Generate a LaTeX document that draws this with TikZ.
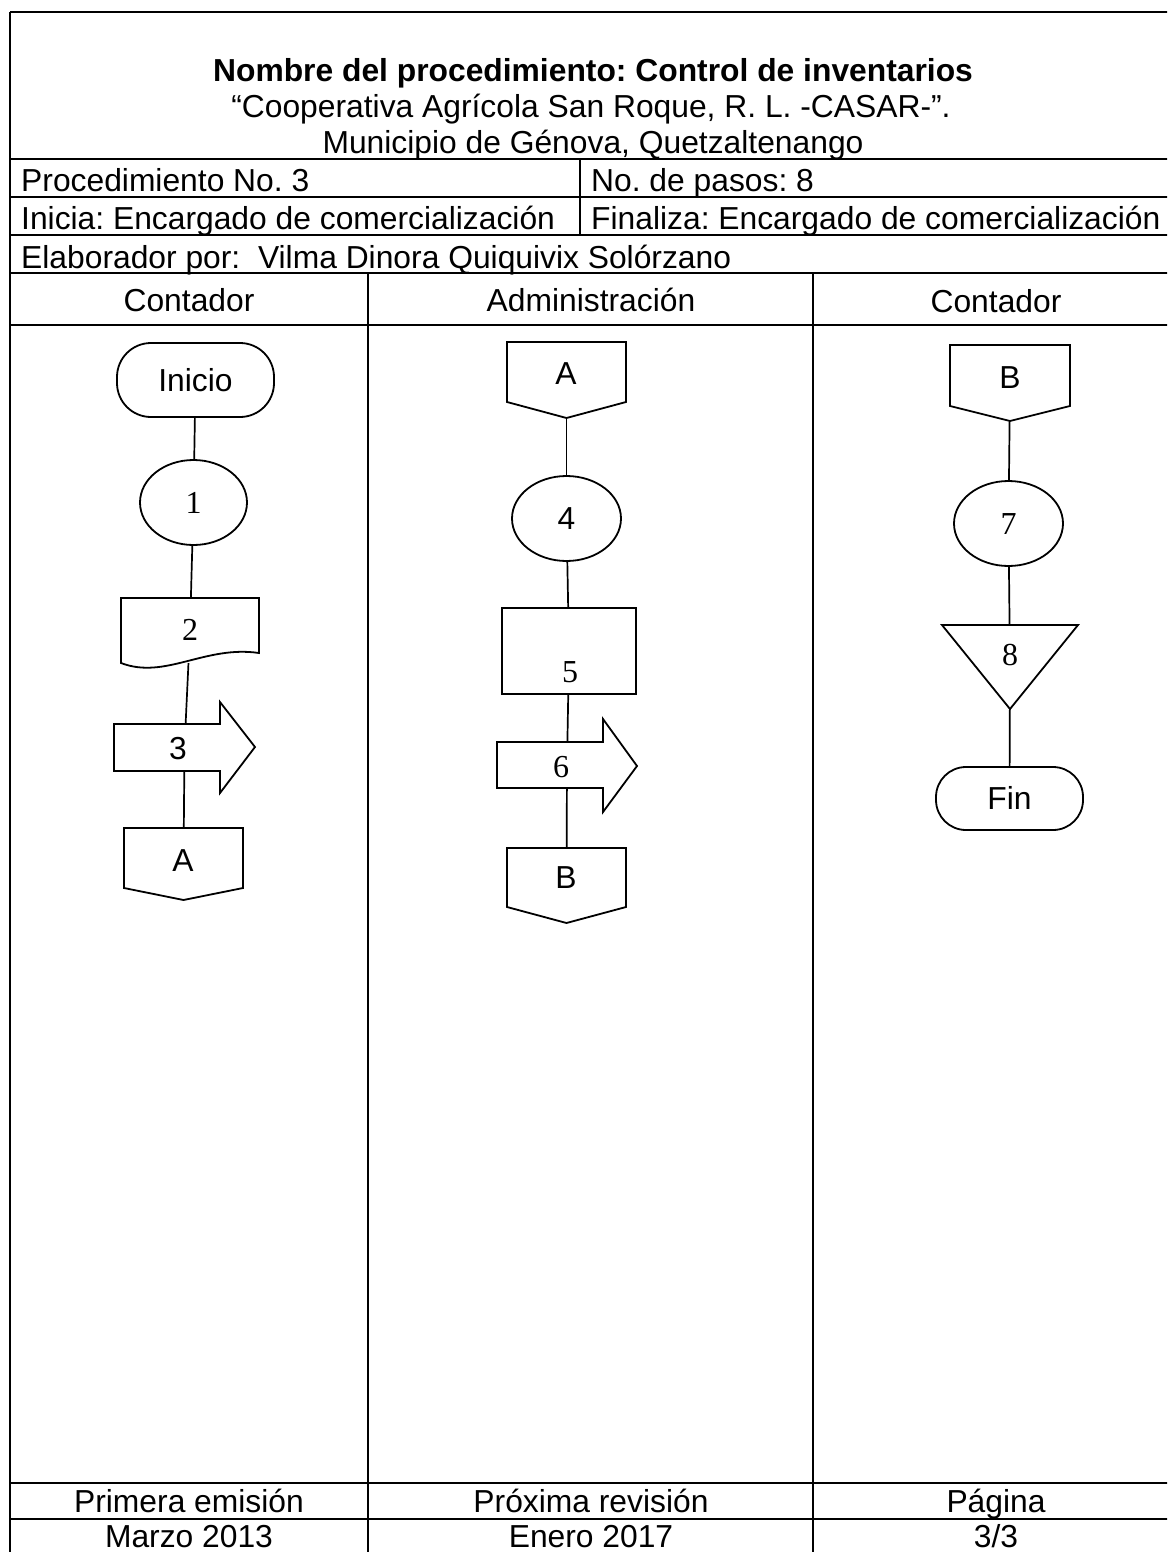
\documentclass[tikz,border=0pt]{standalone}
\usepackage{fontspec}
\setmainfont{Liberation Sans}
\newfontfamily\tnr{Liberation Serif}
\usetikzlibrary{shapes.geometric}
\AtBeginDocument{\frenchspacing}
\begin{document}
\begin{tikzpicture}[x=1pt,y=-1pt,
  tbl/.style={line width=2.4pt},
  shp/.style={draw, line width=1.8pt},
  conn/.style={line width=1.7pt},
  txt/.style={inner sep=0pt, font=\frenchspacing\fontsize{31.8}{38}\selectfont, text height=22.8pt, text depth=0pt},
  ltxt/.style={txt, anchor=west},
  btxt/.style={txt, font=\frenchspacing\bfseries\fontsize{31.8}{38}\selectfont},
  ser/.style={inner sep=0pt, font=\tnr\fontsize{32}{36}\selectfont, text height=21.6pt, text depth=0pt},
  hole/.style={inner sep=0pt, outer sep=0pt, draw=none},
]
\useasboundingbox (0,0) rectangle (1167,1552);
% ---------- table ----------
\begin{scope}
\clip (0,0) rectangle (1167,1552);
\draw[tbl] (10,12) -- (1180,12);
\draw[tbl] (10,12) -- (10,1560);
\foreach \yy in {159,197,235,273,325,1483,1519} {\draw[tbl] (10,\yy) -- (1180,\yy);}
\draw[tbl] (580,159) -- (580,235);
\draw[tbl] (368,273) -- (368,1560);
\draw[tbl] (813,273) -- (813,1560);
\end{scope}
% ---------- header texts ----------
\node[btxt] (title) at (593,70) {Nombre del procedimiento: Control de inventarios};
\node[txt] (coop) at (591,106) {“Cooperativa Agrícola San Roque, R. L. -CASAR-”.};
\node[txt] (muni) at (593,142) {Municipio de Génova, Quetzaltenango};
\node[ltxt] (proc) at (21,180) {Procedimiento No. 3};
\node[ltxt] (pasos) at (591,180) {No. de pasos: 8};
\node[ltxt] (inicia) at (21,218) {Inicia: Encargado de comercialización};
\node[ltxt] (finaliza) at (591,218) {Finaliza: Encargado de comercialización};
\node[ltxt] (elab) at (21,257) {Elaborador por:\ \ Vilma Dinora Quiquivix Solórzano};
\node[txt] (h1) at (189,300) {Contador};
\node[txt] (h2) at (591,300) {Administración};
\node[txt] (h3) at (996,301) {Contador};
% ---------- footer texts ----------
\node[txt] (f1) at (189,1501) {Primera emisión};
\node[txt] (f2) at (591,1501) {Próxima revisión};
\node[txt] (f3) at (996,1501) {Página};
\node[txt] (g1) at (189,1536) {Marzo 2013};
\node[txt] (g2) at (591,1536) {Enero 2017};
\node[txt] (g3) at (996,1536) {3/3};
% ---------- column 1 ----------
\node[shp, txt, rounded corners=34pt, minimum width=157pt, minimum height=74pt] (ini) at (195.5,380) {Inicio};
\node[shp, ellipse, ser, minimum width=107pt, minimum height=85pt] (s1) at (193.5,502.5) {1};
\node[hole, minimum width=138pt, minimum height=65pt] (d2) at (190,630.5) {};
\draw[shp] (121,663) -- (121,598) -- (259,598) -- (259,653) .. controls (205,645) and (165,680) .. (121,663) -- cycle;
\node[ser] (d2t) at (190,630) {2};
\node[hole, minimum width=141pt, minimum height=47pt] (a3) at (184.5,747.5) {};
\draw[shp] (114,724) -- (220,724) -- (220,702) -- (255,747) -- (220,793) -- (220,771) -- (114,771) -- cycle;
\node[txt] (a3t) at (178,748) {3};
\node[hole, minimum width=119pt, minimum height=72pt] (oA1) at (183.5,864) {};
\draw[shp] (124,828) -- (243,828) -- (243,888) -- (183.5,900) -- (124,888) -- cycle;
\node[txt] (oA1t) at (183,860) {A};
\draw[conn] (ini) -- (s1);
\draw[conn] (s1) -- (d2);
\draw[conn] (d2) -- (a3);
\draw[conn] (a3) -- (oA1);
% ---------- column 2 ----------
\node[hole, minimum width=119pt, minimum height=76pt] (oA2) at (566.5,380) {};
\draw[shp] (507,342) -- (626,342) -- (626,402) -- (566.5,418) -- (507,402) -- cycle;
\node[txt] (oA2t) at (566,373) {A};
\node[shp, ellipse, txt, minimum width=109pt, minimum height=85pt] (s4) at (566.5,518.5) {4};
\node[shp, inner sep=0pt, minimum width=134pt, minimum height=86pt] (r5) at (569,651) {};
\node[ser] (r5t) at (570,672) {5};
\node[hole, minimum width=140pt, minimum height=46pt] (a6) at (567,765) {};
\draw[shp] (497,742) -- (603,742) -- (603,719) -- (637,766) -- (603,812) -- (603,788) -- (497,788) -- cycle;
\node[ser] (a6t) at (561,767) {6};
\node[hole, minimum width=119pt, minimum height=75pt] (oB2) at (566.5,885.5) {};
\draw[shp] (507,848) -- (626,848) -- (626,907) -- (566.5,923) -- (507,907) -- cycle;
\node[txt] (oB2t) at (566,877) {B};
\draw[conn] (oA2) -- (s4);
\draw[conn] (s4) -- (r5);
\draw[conn] (r5) -- (a6);
\draw[conn] (a6) -- (oB2);
% ---------- column 3 ----------
\node[hole, minimum width=120pt, minimum height=76pt] (oB3) at (1010,383) {};
\draw[shp] (950,345) -- (1070,345) -- (1070,406) -- (1010,421) -- (950,406) -- cycle;
\node[txt] (oB3t) at (1010,377) {B};
\node[shp, ellipse, ser, minimum width=109pt, minimum height=85pt] (s7) at (1008.5,523.5) {7};
\node[hole, minimum width=136pt, minimum height=84pt] (t8) at (1010,667) {};
\draw[shp] (942,625) -- (1078,625) -- (1010,709) -- cycle;
\node[ser] (t8t) at (1010,655) {8};
\node[shp, txt, rounded corners=30pt, minimum width=147pt, minimum height=63pt] (fin) at (1009.5,798.5) {Fin};
\draw[conn] (oB3) -- (s7);
\draw[conn] (s7) -- (t8);
\draw[conn] (t8) -- (fin);
\end{tikzpicture}
\end{document}
